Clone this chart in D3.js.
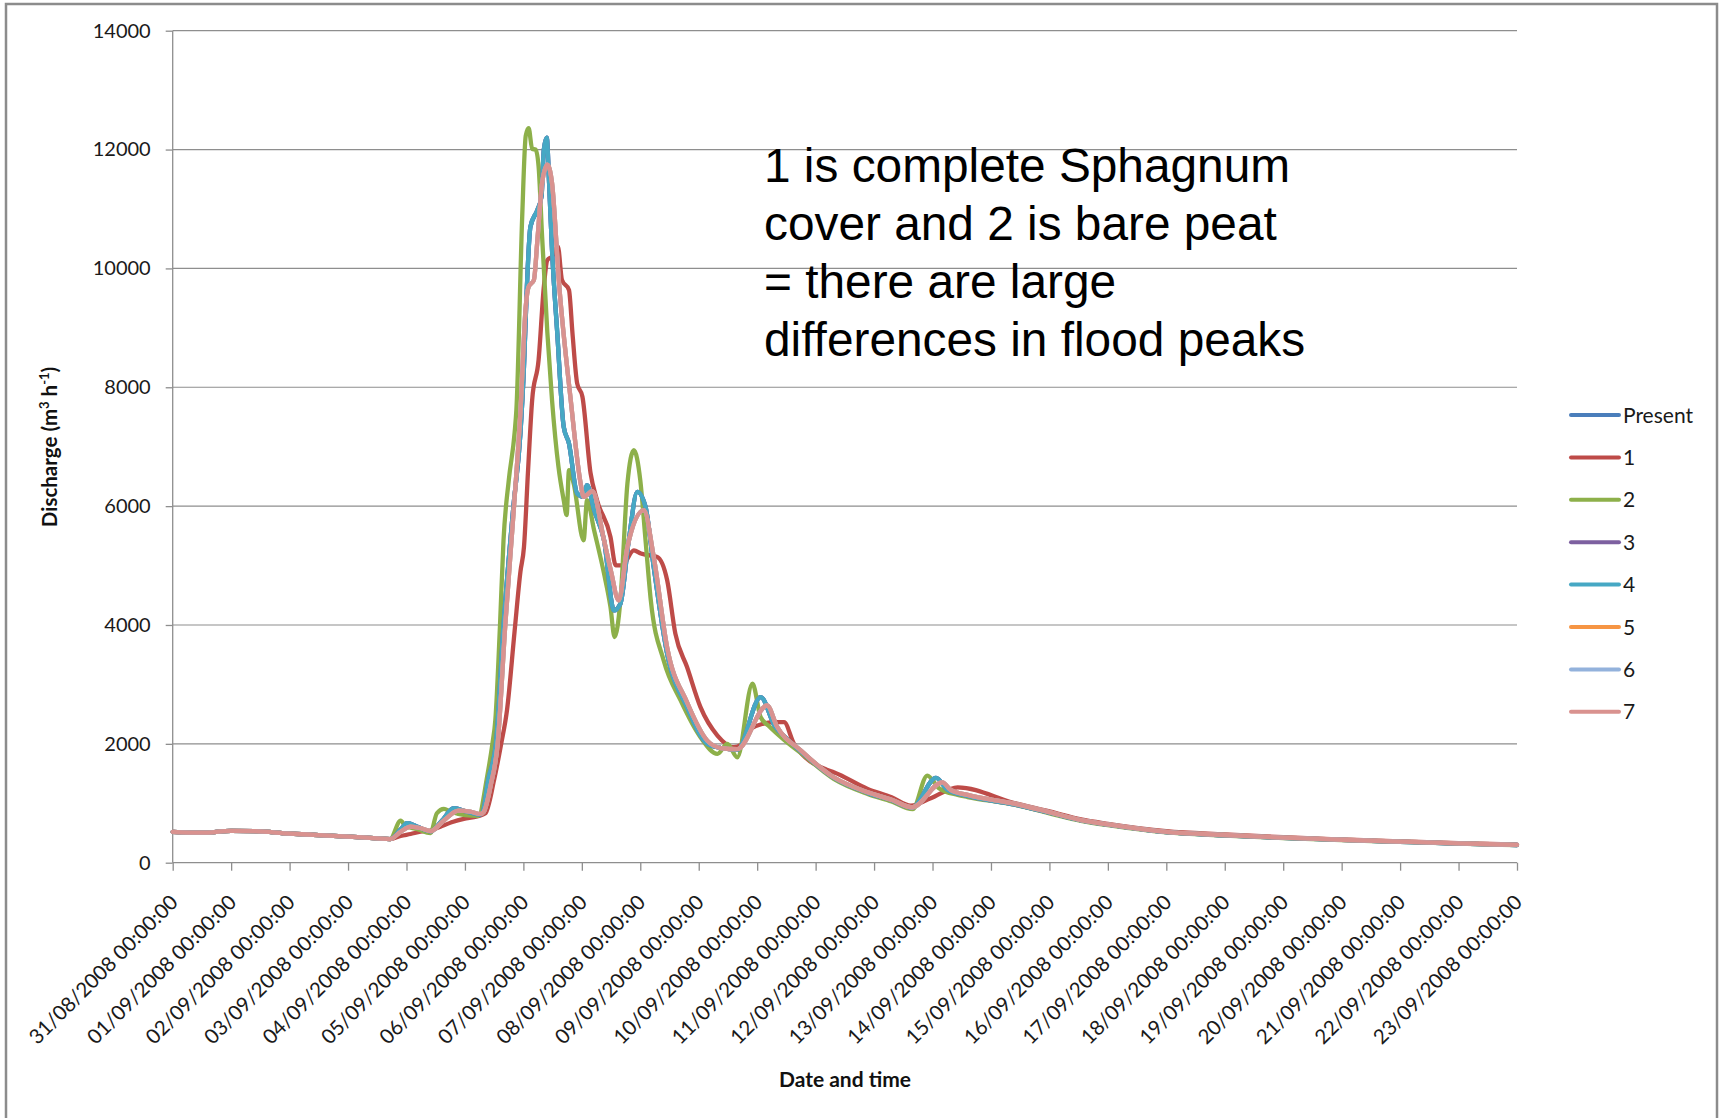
<!DOCTYPE html>
<html>
<head>
<meta charset="utf-8">
<script src="https://cdn.jsdelivr.net/npm/d3@7"></script>
<style>
  html, body { margin: 0; padding: 0; background: #ffffff; }
  svg { display: block; }
</style>
</head>
<body>
<svg id="chart" width="1723" height="1118"></svg>
<script>
// Modelled discharge under land-cover scenarios, 31 Aug – 23 Sep 2008.
// Points are [days since 31/08/2008 00:00, discharge in m3/h].

const startDate = new Date(Date.UTC(2008, 7, 31));
const endDate = new Date(Date.UTC(2008, 8, 23));
const yTicks = [0, 2000, 4000, 6000, 8000, 10000, 12000, 14000];

const seriesNames = ["Present", "1", "2", "3", "4", "5", "6", "7"];
const seriesColors = ["#4a7ebb", "#be4b48", "#8db04a", "#7d60a0", "#46a8c4", "#f69544", "#93b2dc", "#d9928f"];

const baseline = [[0, 520], [0.5, 505], [1, 535], [1.4, 530], [2, 490], [2.5, 465], [3, 440], [3.5, 410], [3.72, 398]];

// Present conditions (scenarios 3 and 4 run almost on top of it)
const present = baseline.concat([
  [3.9, 560], [4.01, 664], [4.2, 600], [4.41, 527], [4.6, 700], [4.81, 917], [5.03, 860], [5.25, 810],
  [5.3, 840], [5.4, 1400], [5.53, 2000], [5.66, 4000], [5.83, 6000], [5.95, 7235], [6.01, 8350],
  [6.06, 9690], [6.12, 10700], [6.24, 10985], [6.31, 11210], [6.35, 12000], [6.4, 12200], [6.44, 11435],
  [6.49, 10310], [6.58, 8908], [6.69, 7335], [6.78, 7055], [6.92, 6213], [7.03, 6155], [7.09, 6352],
  [7.21, 5931], [7.38, 5426], [7.55, 4246], [7.66, 4358], [7.8, 5400], [7.95, 6240], [8.09, 5987],
  [8.23, 4976], [8.46, 3516], [8.8, 2617], [9.15, 2000], [9.38, 1930], [9.66, 1900], [10.06, 2785],
  [10.3, 2300], [10.46, 2130], [10.75, 1870], [11.31, 1430], [11.89, 1175], [12.3, 1050], [12.65, 925],
  [13.06, 1427], [13.26, 1225], [13.6, 1124], [14.4, 980], [15, 840], [15.54, 712], [16, 640],
  [17, 515], [18, 462], [19, 418], [20, 383], [21, 352], [22, 322], [23, 298]
]);

// Scenario 1: complete Sphagnum cover
const scenario1 = baseline.concat([
  [3.9, 450], [4.07, 483], [4.24, 522], [4.41, 540], [4.58, 607], [4.8, 690], [4.98, 736], [5.21, 780],
  [5.35, 830], [5.5, 1400], [5.62, 2000], [5.72, 2570], [5.85, 3900], [5.95, 4900], [6.01, 5313],
  [6.08, 6600], [6.15, 7785], [6.26, 8459], [6.35, 9693], [6.41, 10140], [6.49, 10200], [6.59, 10370],
  [6.66, 9806], [6.78, 9638], [6.84, 8908], [6.92, 8066], [7.01, 7841], [7.15, 6550], [7.26, 6099],
  [7.49, 5481], [7.58, 5004], [7.69, 5004], [7.89, 5257], [8.01, 5201], [8.29, 5145], [8.46, 4752],
  [8.6, 3854], [8.8, 3292], [9.03, 2617], [9.32, 2140], [9.6, 1943], [9.73, 1990], [9.83, 2224],
  [10.29, 2364], [10.46, 2364], [10.63, 2000], [11.2, 1560], [11.31, 1522], [11.89, 1241], [12.3, 1100],
  [12.63, 960], [12.97, 1085], [13.43, 1269], [14.4, 1005], [15, 865], [15.54, 730], [16, 655],
  [17, 530], [18, 475], [19, 428], [20, 392], [21, 360], [22, 330], [23, 305]
]);

// Scenario 2: bare peat
const scenario2 = baseline.concat([
  [3.9, 708], [3.98, 620], [4.2, 560], [4.41, 500], [4.52, 832], [4.64, 905], [4.75, 860], [5, 800],
  [5.23, 790], [5.38, 1450], [5.47, 2000], [5.52, 2400], [5.6, 4000], [5.66, 5426], [5.75, 6436],
  [5.85, 7235], [5.88, 7616], [5.98, 10880], [6.04, 12230], [6.09, 12360], [6.15, 12010], [6.21, 12000],
  [6.26, 11720], [6.32, 10540], [6.41, 8920], [6.49, 7785], [6.6, 6661], [6.69, 6100], [6.74, 5850],
  [6.78, 6605], [6.86, 6380], [7.03, 5426], [7.09, 6100], [7.21, 5594], [7.38, 4864], [7.49, 4302],
  [7.56, 3797], [7.66, 4415], [7.78, 6380], [7.89, 6942], [8, 6436], [8.09, 5426], [8.18, 4415],
  [8.4, 3404], [8.69, 2730], [9.03, 2111], [9.32, 1831], [9.49, 2000], [9.66, 1774], [9.92, 3011],
  [10.06, 2448], [10.2, 2300], [10.46, 2067], [10.75, 1843], [11.31, 1410], [11.89, 1157], [12.3, 1030],
  [12.66, 900], [12.91, 1466], [13.11, 1253], [13.43, 1140], [13.6, 1105], [14.4, 975], [15, 830],
  [15.54, 705], [16, 632], [17, 510], [18, 458], [19, 415], [20, 380], [21, 350], [22, 320], [23, 296]
]);

// Scenario 7 (scenarios 5 and 6 follow it closely)
const scenario7 = baseline.concat([
  [3.9, 520], [4.07, 607], [4.25, 580], [4.41, 530], [4.65, 720], [4.89, 876], [5.09, 860], [5.27, 820],
  [5.32, 850], [5.44, 1300], [5.56, 2000], [5.69, 4000], [5.84, 6000], [5.95, 7600], [6.04, 9353],
  [6.09, 9690], [6.18, 9806], [6.24, 10480], [6.32, 11435], [6.41, 11745], [6.49, 11435], [6.61, 9750],
  [6.81, 7785], [6.98, 6380], [7.03, 6155], [7.18, 6250], [7.38, 5426], [7.5, 4900], [7.63, 4415],
  [7.78, 5313], [8.06, 5931], [8.23, 5145], [8.46, 3620], [8.8, 2700], [9.15, 2050], [9.38, 1930],
  [9.66, 1910], [10.17, 2645], [10.34, 2291], [10.75, 1887], [11.31, 1437], [11.89, 1185], [12.3, 1060],
  [12.65, 932], [13.17, 1353], [13.31, 1225], [13.6, 1140], [14.4, 995], [15, 850], [15.54, 718],
  [16, 645], [17, 520], [18, 466], [19, 421], [20, 386], [21, 355], [22, 325], [23, 300]
]);

const scenario3 = present;
const scenario4 = present;
const scenario5 = scenario7;
const scenario6 = scenario7;

const seriesData = [present, scenario1, scenario2, scenario3, scenario4, scenario5, scenario6, scenario7];

const noteLines = [
  "1 is complete Sphagnum",
  "cover and 2 is bare peat",
  "= there are large",
  "differences in flood peaks"
];

// ---- layout ----
const plot = { left: 172.7, right: 1517, top: 30.7, bottom: 862.7 };
const gridColor = "#8e8e8e";
const tickFont = "Lato, 'Open Sans', sans-serif";

const svg = d3.select("#chart");
svg.append("rect").attr("width", 1723).attr("height", 1118).attr("fill", "#fff");

// outer chart frame
svg.append("rect")
  .attr("x", 6).attr("y", 4).attr("width", 1711).attr("height", 1140)
  .attr("fill", "none").attr("stroke", "#8c8c8c").attr("stroke-width", 2.5);

const dayMs = 864e5;
const toDate = t => new Date(startDate.getTime() + t * dayMs);

const x = d3.scaleUtc().domain([startDate, endDate]).range([plot.left, plot.right]);
const y = d3.scaleLinear().domain([0, 14000]).range([plot.bottom, plot.top]);

// horizontal gridlines
svg.append("g")
  .selectAll("line")
  .data(yTicks.filter(v => v > 0))
  .join("line")
  .attr("x1", plot.left).attr("x2", plot.right)
  .attr("y1", d => y(d)).attr("y2", d => y(d))
  .attr("stroke", gridColor).attr("stroke-width", 1.2);

// y axis
const yAxis = svg.append("g")
  .attr("transform", `translate(${plot.left},0)`)
  .call(d3.axisLeft(y).tickValues(yTicks).tickSize(7).tickPadding(15).tickFormat(d3.format("d")));
yAxis.selectAll("path, line").attr("stroke", gridColor).attr("stroke-width", 1.3);
yAxis.selectAll("text").attr("font-family", tickFont).attr("font-size", 20).attr("fill", "#1a1a1a");
yAxis.select(".domain").attr("d", `M0,${plot.top}V${plot.bottom}`);

// x axis
const dayTicks = d3.utcDay.range(startDate, d3.utcDay.offset(endDate, 1));
const xAxis = svg.append("g")
  .attr("transform", `translate(0,${plot.bottom})`)
  .call(d3.axisBottom(x).tickValues(dayTicks).tickSize(8).tickFormat(d3.utcFormat("%d/%m/%Y %H:%M:%S")));
xAxis.selectAll("path, line").attr("stroke", gridColor).attr("stroke-width", 1.3);
xAxis.select(".domain").attr("d", `M${plot.left},0H${plot.right}`);
xAxis.selectAll("text")
  .attr("font-family", tickFont).attr("font-size", 20.5).attr("fill", "#1a1a1a")
  .attr("x", 0).attr("y", 0).attr("dy", 0)
  .attr("text-anchor", "end")
  .attr("transform", "translate(6,41) rotate(-45)");

// series lines
const line = d3.line()
  .x(d => x(toDate(d[0])))
  .y(d => y(d[1]))
  .curve(d3.curveMonotoneX);

svg.append("g")
  .selectAll("path")
  .data(seriesData)
  .join("path")
  .attr("d", d => line(d))
  .attr("fill", "none")
  .attr("stroke", (d, i) => seriesColors[i])
  .attr("stroke-width", 4.3)
  .attr("stroke-linejoin", "round")
  .attr("stroke-linecap", "round");

// axis titles
const yTitle = svg.append("text")
  .attr("transform", "translate(57,447) rotate(-90)")
  .attr("text-anchor", "middle")
  .attr("font-family", tickFont).attr("font-weight", "bold").attr("font-size", 20.5).attr("fill", "#111");
yTitle.append("tspan").text("Discharge (m");
yTitle.append("tspan").text("3").attr("font-size", 13).attr("dy", -8);
yTitle.append("tspan").text(" h").attr("dy", 8);
yTitle.append("tspan").text("-1").attr("font-size", 13).attr("dy", -8);
yTitle.append("tspan").text(")").attr("dy", 8);

svg.append("text")
  .attr("x", 845).attr("y", 1087)
  .attr("text-anchor", "middle")
  .attr("font-family", tickFont).attr("font-weight", "bold").attr("font-size", 21).attr("fill", "#111")
  .text("Date and time");

// note
svg.append("g")
  .selectAll("text")
  .data(noteLines)
  .join("text")
  .attr("x", 764)
  .attr("y", (d, i) => 182 + i * 58)
  .attr("font-family", "'Liberation Sans', Arial, sans-serif")
  .attr("font-size", 47.8)
  .attr("fill", "#000")
  .text(d => d);

// legend
const legend = svg.append("g")
  .selectAll("g")
  .data(seriesNames)
  .join("g")
  .attr("transform", (d, i) => `translate(1571,${415 + i * 42.4})`);
legend.append("line")
  .attr("x1", 0).attr("x2", 48)
  .attr("stroke", (d, i) => seriesColors[i])
  .attr("stroke-width", 4)
  .attr("stroke-linecap", "round");
legend.append("text")
  .attr("x", 52).attr("dy", "0.36em")
  .attr("font-family", tickFont).attr("font-size", 21).attr("fill", "#1a1a1a")
  .text(d => d);
</script>
</body>
</html>
